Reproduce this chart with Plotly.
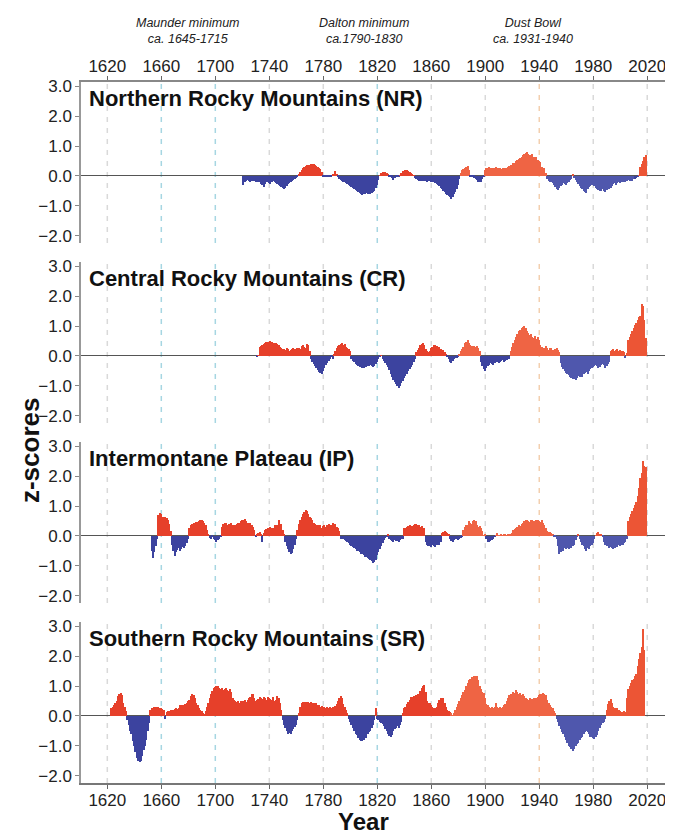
import plotly.graph_objects as go

# ---------------- data (z-scores by year) ----------------
NR_START = 1721
NR = [
    -0.30, -0.22, -0.18, -0.15, -0.17, -0.20, -0.16, -0.14, -0.18, -0.20,   # 1721
    -0.17, -0.19, -0.22, -0.26, -0.30, -0.36, -0.28, -0.22, -0.20, -0.24,   # 1731
    -0.27, -0.22, -0.18, -0.21, -0.25, -0.28, -0.30, -0.33, -0.38, -0.42,   # 1741
    -0.45, -0.40, -0.33, -0.28, -0.25, -0.22, -0.18, -0.15, -0.12, -0.08,   # 1751
    -0.04, 0.05, 0.12, 0.20, 0.26, 0.30, 0.33, 0.35, 0.37, 0.38,            # 1761
    0.40, 0.41, 0.40, 0.37, 0.33, 0.30, 0.27, 0.22, 0.12, -0.02,            # 1771
    -0.03, -0.04, -0.03, -0.02, -0.03, -0.02, 0.04, 0.06, 0.18, 0.08,       # 1781
    -0.05, -0.10, -0.15, -0.18, -0.20, -0.22, -0.25, -0.28, -0.30, -0.33,   # 1791
    -0.36, -0.40, -0.44, -0.48, -0.52, -0.55, -0.58, -0.60, -0.63, -0.62,   # 1801
    -0.60, -0.58, -0.60, -0.62, -0.60, -0.57, -0.55, -0.50, -0.42, -0.30,   # 1811
    -0.15, 0.02, 0.10, 0.12, 0.13, 0.12, 0.10, 0.05, -0.04, -0.05,          # 1821
    -0.06, -0.14, -0.08, -0.04, -0.03, -0.02, 0.02, 0.10, 0.15, 0.18,       # 1831
    0.20, 0.19, 0.17, 0.12, 0.10, 0.08, 0.03, -0.08, -0.12, -0.15,          # 1841
    -0.16, -0.18, -0.17, -0.15, -0.16, -0.18, -0.20, -0.18, -0.17, -0.19,   # 1851
    -0.20, -0.22, -0.24, -0.27, -0.30, -0.35, -0.40, -0.45, -0.50, -0.55,   # 1861
    -0.60, -0.64, -0.68, -0.72, -0.76, -0.70, -0.62, -0.55, -0.45, -0.30,   # 1871
    -0.12, 0.10, 0.20, 0.24, 0.28, 0.30, 0.34, 0.20, -0.03, -0.05,          # 1881
    -0.04, -0.06, -0.10, -0.15, -0.20, -0.22, -0.20, -0.12, -0.05, 0.20,    # 1891
    0.25, 0.28, 0.30, 0.26, 0.27, 0.25, 0.28, 0.30, 0.27, 0.25,             # 1901
    0.26, 0.24, 0.26, 0.27, 0.25, 0.28, 0.30, 0.32, 0.35, 0.38,             # 1911
    0.42, 0.45, 0.50, 0.55, 0.58, 0.60, 0.65, 0.70, 0.72, 0.76,             # 1921
    0.80, 0.74, 0.70, 0.68, 0.72, 0.65, 0.60, 0.62, 0.55, 0.50,             # 1931
    0.48, 0.30, 0.28, 0.25, 0.10, -0.12, -0.18, -0.20, -0.22, -0.25,        # 1941
    -0.30, -0.38, -0.45, -0.47, -0.40, -0.35, -0.30, -0.25, -0.28, -0.32,   # 1951
    -0.25, -0.20, -0.15, -0.10, 0.06, -0.08, -0.15, -0.22, -0.28, -0.35,    # 1961
    -0.40, -0.45, -0.50, -0.55, -0.58, -0.45, -0.38, -0.35, -0.30, -0.30,   # 1971
    -0.35, -0.40, -0.45, -0.48, -0.52, -0.50, -0.45, -0.50, -0.53, -0.48,   # 1981
    -0.42, -0.45, -0.40, -0.35, -0.28, -0.25, -0.30, -0.25, -0.22, -0.25,   # 1991
    -0.20, -0.22, -0.18, -0.20, -0.18, -0.15, -0.17, -0.14, -0.16, -0.12,   # 2001
    -0.10, -0.08, -0.05, 0.02, 0.30, 0.40, 0.50, 0.62, 0.70,                # 2011
]

CR_START = 1731
CR = [
    -0.03, 0.02, 0.30, 0.33, 0.38, 0.40, 0.43, 0.46, 0.48, 0.47,            # 1731
    0.49, 0.47, 0.44, 0.42, 0.43, 0.40, 0.36, 0.30, 0.26, 0.24,             # 1741
    0.22, 0.20, 0.25, 0.22, 0.18, 0.20, 0.24, 0.27, 0.22, 0.20,             # 1751
    0.25, 0.28, 0.22, 0.32, 0.38, 0.30, 0.26, 0.41, 0.35, 0.15,             # 1761
    -0.10, -0.20, -0.28, -0.35, -0.42, -0.48, -0.55, -0.58, -0.61, -0.52,   # 1771
    -0.42, -0.32, -0.25, -0.18, -0.10, -0.04, -0.10, 0.05, 0.15, 0.25,      # 1781
    0.32, 0.38, 0.40, 0.43, 0.38, 0.40, 0.30, 0.25, 0.22, 0.15,             # 1791
    -0.10, -0.18, -0.22, -0.28, -0.30, -0.34, -0.36, -0.38, -0.40, -0.42,   # 1801
    -0.38, -0.36, -0.33, -0.35, -0.32, -0.35, -0.38, -0.34, -0.28, -0.20,   # 1811
    -0.10, -0.02, 0.02, -0.12, -0.18, -0.25, -0.32, -0.38, -0.48, -0.60,    # 1821
    -0.70, -0.80, -0.88, -0.95, -1.02, -1.07, -1.00, -0.92, -0.85, -0.75,   # 1831
    -0.68, -0.60, -0.52, -0.45, -0.38, -0.30, -0.22, -0.10, 0.12, 0.20,     # 1841
    0.28, 0.35, 0.40, 0.43, 0.35, 0.22, 0.15, 0.12, 0.18, 0.25,             # 1851
    0.30, 0.35, 0.38, 0.32, 0.25, 0.30, 0.22, 0.15, 0.20, 0.12,             # 1861
    0.08, -0.05, -0.12, -0.20, -0.25, -0.18, -0.12, -0.08, -0.06, -0.03,    # 1871
    0.08, 0.15, 0.22, 0.30, 0.42, 0.48, 0.52, 0.45, 0.35, 0.32,             # 1881
    0.30, 0.33, 0.30, 0.32, 0.28, 0.15, -0.20, -0.35, -0.45, -0.50,         # 1891
    -0.42, -0.35, -0.30, -0.25, -0.28, -0.32, -0.25, -0.22, -0.20, -0.25,   # 1901
    -0.22, -0.18, -0.15, -0.20, -0.17, -0.15, -0.12, -0.10, 0.15, 0.30,     # 1911
    0.45, 0.55, 0.65, 0.75, 0.82, 0.88, 0.95, 0.98, 1.00, 0.92,             # 1921
    0.85, 0.78, 0.70, 0.72, 0.65, 0.60, 0.68, 0.58, 0.62, 0.55,             # 1931
    0.35, 0.30, 0.22, 0.28, 0.32, 0.25, 0.20, 0.28, 0.25, 0.20,             # 1941
    0.18, 0.22, 0.28, 0.20, 0.12, -0.25, -0.38, -0.45, -0.50, -0.58,        # 1951
    -0.62, -0.65, -0.70, -0.74, -0.76, -0.78, -0.82, -0.75, -0.68, -0.72,   # 1961
    -0.65, -0.70, -0.62, -0.58, -0.55, -0.60, -0.52, -0.45, -0.40, -0.38,   # 1971
    -0.35, -0.30, -0.35, -0.42, -0.38, -0.30, -0.26, -0.32, -0.40, -0.35,   # 1981
    -0.28, -0.22, 0.15, 0.20, 0.22, 0.18, 0.20, 0.22, 0.18, 0.20,           # 1991
    0.16, 0.15, 0.12, -0.07, 0.10, 0.55, 0.65, 0.75, 0.85, 0.95,            # 2001
    1.05, 1.10, 1.20, 1.30, 1.35, 1.74, 1.68, 1.20, 0.60,                   # 2011
]

IP_START = 1653
IP = [
    -0.50, -0.73, -0.55, -0.35, -0.10, 0.70, 0.78, 0.72, 0.65, 0.62,        # 1653
    0.64, 0.60, 0.55, 0.40, 0.15, -0.30, -0.50, -0.67, -0.55, -0.48,        # 1663
    -0.42, -0.50, -0.45, -0.38, -0.42, -0.35, -0.25, -0.10, 0.25, 0.35,     # 1673
    0.40, 0.42, 0.45, 0.48, 0.46, 0.50, 0.52, 0.55, 0.50, 0.45,             # 1683
    0.35, 0.20, 0.05, -0.08, -0.10, -0.05, -0.12, -0.15, -0.19, -0.15,      # 1693
    -0.10, -0.05, 0.30, 0.40, 0.45, 0.42, 0.38, 0.40, 0.35, 0.45,           # 1703
    0.38, 0.30, 0.35, 0.40, 0.42, 0.45, 0.50, 0.52, 0.55, 0.58,             # 1713
    0.50, 0.45, 0.40, 0.42, 0.35, 0.30, 0.20, -0.05, 0.05, 0.10,            # 1723
    0.12, 0.08, -0.22, 0.10, 0.20, 0.22, 0.25, 0.20, 0.30, 0.25,            # 1733
    0.28, 0.38, 0.30, 0.35, 0.55, 0.30, 0.40, 0.20, 0.05, -0.20,            # 1743
    -0.35, -0.45, -0.55, -0.61, -0.58, -0.45, -0.30, -0.10, 0.20, 0.40,     # 1753
    0.55, 0.65, 0.72, 0.80, 0.86, 0.82, 0.75, 0.64, 0.60, 0.55,             # 1763
    0.45, 0.40, 0.35, 0.38, 0.30, 0.35, 0.28, 0.32, 0.38, 0.30,             # 1773
    0.35, 0.40, 0.33, 0.38, 0.42, 0.35, 0.40, 0.30, 0.25, 0.15,             # 1783
    -0.10, -0.12, -0.10, -0.15, -0.18, -0.20, -0.25, -0.30, -0.33, -0.38,   # 1793
    -0.42, -0.45, -0.50, -0.52, -0.55, -0.60, -0.62, -0.65, -0.70, -0.72,   # 1803
    -0.75, -0.78, -0.80, -0.85, -0.90, -0.88, -0.80, -0.65, -0.55, -0.45,   # 1813
    -0.35, -0.25, -0.15, -0.08, -0.03, 0.05, -0.12, -0.15, -0.18, -0.20,    # 1823
    -0.15, -0.18, -0.16, -0.20, -0.15, -0.12, -0.10, 0.25, 0.28, 0.30,      # 1833
    0.32, 0.35, 0.30, 0.33, 0.38, 0.40, 0.41, 0.38, 0.35, 0.30,             # 1843
    0.32, 0.28, 0.25, -0.20, -0.30, -0.33, -0.35, -0.38, -0.30, -0.35,      # 1853
    -0.38, -0.30, -0.25, -0.30, -0.20, 0.10, 0.13, 0.15, 0.12, 0.10,        # 1863
    0.08, -0.10, -0.16, -0.20, -0.15, -0.12, -0.10, -0.15, -0.12, -0.08,    # 1873
    -0.05, 0.20, 0.30, 0.35, 0.38, 0.50, 0.45, 0.40, 0.50, 0.55,            # 1883
    0.50, 0.35, 0.30, 0.32, 0.25, 0.15, 0.02, 0.04, -0.12, -0.20,           # 1893
    -0.22, -0.18, -0.15, -0.10, -0.05, 0.02, 0.10, 0.03, 0.02, 0.05,        # 1903
    0.03, 0.04, 0.05, 0.03, 0.06, 0.05, 0.04, 0.10, 0.20, 0.22,             # 1913
    0.25, 0.30, 0.35, 0.33, 0.40, 0.45, 0.50, 0.52, 0.55, 0.50,             # 1923
    0.48, 0.52, 0.55, 0.50, 0.45, 0.52, 0.55, 0.50, 0.48, 0.52,             # 1933
    0.45, 0.35, 0.25, 0.15, 0.13, 0.12, 0.10, 0.05, -0.02, -0.05,           # 1943
    -0.10, -0.35, -0.60, -0.55, -0.45, -0.50, -0.42, -0.45, -0.40, -0.45,   # 1953
    -0.38, -0.40, -0.35, -0.30, -0.15, -0.05, 0.06, -0.10, -0.20, -0.30,    # 1963
    -0.35, -0.45, -0.50, -0.40, -0.45, -0.35, -0.30, -0.25, -0.10, 0.02,    # 1973
    0.10, 0.12, 0.08, 0.05, -0.02, -0.20, -0.30, -0.35, -0.30, -0.40,       # 1983
    -0.38, -0.42, -0.45, -0.40, -0.35, -0.38, -0.30, -0.35, -0.30, -0.32,   # 1993
    -0.25, -0.20, -0.10, 0.50, 0.62, 0.75, 0.85, 0.95, 1.05, 1.15,          # 2003
    1.35, 1.60, 1.95, 2.10, 2.51, 2.35, 2.30,                               # 2013
]

SR_START = 1623
SR = [
    0.25, 0.30, 0.35, 0.42, 0.50, 0.67, 0.72, 0.76, 0.70, 0.45,             # 1623
    0.30, 0.15, -0.15, -0.30, -0.50, -0.60, -0.85, -1.00, -1.20, -1.40,     # 1633
    -1.50, -1.54, -1.52, -1.35, -1.15, -1.00, -0.80, -0.50, -0.25, 0.20,    # 1643
    0.25, 0.28, 0.31, 0.30, 0.28, 0.30, 0.25, 0.28, 0.22, 0.20,             # 1653
    -0.10, 0.12, 0.15, 0.18, 0.20, 0.18, 0.20, 0.22, 0.25, 0.22,            # 1663
    0.28, 0.35, 0.36, 0.38, 0.35, 0.40, 0.45, 0.50, 0.55, 0.68,             # 1673
    0.74, 0.70, 0.60, 0.45, 0.35, 0.25, 0.20, 0.15, 0.10, 0.08,             # 1683
    0.15, 0.30, 0.45, 0.60, 0.75, 0.85, 0.95, 0.98, 1.00, 1.01,             # 1693
    0.95, 0.90, 0.92, 0.88, 0.90, 0.93, 0.88, 0.85, 0.90, 0.80,             # 1703
    0.60, 0.55, 0.50, 0.48, 0.50, 0.45, 0.50, 0.48, 0.50, 0.52,             # 1713
    0.48, 0.55, 0.60, 0.65, 0.72, 0.74, 0.60, 0.50, 0.55, 0.58,             # 1723
    0.62, 0.60, 0.58, 0.65, 0.60, 0.55, 0.62, 0.60, 0.58, 0.55,             # 1733
    0.62, 0.50, 0.55, 0.68, 0.60, 0.45, 0.20, -0.15, -0.30, -0.42,          # 1743
    -0.50, -0.60, -0.58, -0.60, -0.50, -0.45, -0.38, -0.30, -0.15, 0.10,    # 1753
    0.30, 0.42, 0.48, 0.46, 0.48, 0.45, 0.47, 0.44, 0.48, 0.45,             # 1763
    0.42, 0.40, 0.44, 0.38, 0.35, 0.30, 0.32, 0.28, 0.30, 0.26,             # 1773
    0.30, 0.28, 0.30, 0.25, 0.30, 0.28, 0.32, 0.40, 0.50, 0.60,             # 1783
    0.67, 0.60, 0.40, 0.30, 0.20, 0.10, -0.10, -0.20, -0.30, -0.40,         # 1793
    -0.50, -0.60, -0.65, -0.75, -0.80, -0.83, -0.85, -0.80, -0.70, -0.75,   # 1803
    -0.60, -0.55, -0.50, -0.40, -0.30, -0.15, 0.25, -0.10, -0.15, -0.20,    # 1813
    -0.25, -0.26, -0.35, -0.45, -0.50, -0.60, -0.68, -0.72, -0.65, -0.50,   # 1823
    -0.45, -0.40, -0.35, -0.40, -0.30, -0.20, 0.10, 0.25, 0.30, 0.40,       # 1833
    0.48, 0.55, 0.62, 0.65, 0.66, 0.68, 0.70, 0.72, 0.75, 0.85,             # 1843
    0.93, 1.00, 1.05, 0.80, 0.50, 0.42, 0.45, 0.35, 0.30, 0.28,             # 1853
    0.25, 0.30, 0.45, 0.55, 0.60, 0.58, 0.60, 0.45, 0.30, 0.20,             # 1863
    0.15, 0.12, 0.10, 0.02, 0.10, 0.20, 0.30, 0.40, 0.50, 0.60,             # 1873
    0.70, 0.80, 0.88, 1.00, 1.10, 1.20, 1.25, 1.30, 1.32, 1.35,             # 1883
    1.33, 1.35, 1.20, 1.00, 0.90, 0.80, 0.76, 0.60, 0.40, 0.35,             # 1893
    0.30, 0.25, 0.30, 0.28, 0.30, 0.44, 0.30, 0.28, 0.30, 0.25,             # 1903
    0.30, 0.35, 0.40, 0.50, 0.60, 0.70, 0.72, 0.75, 0.80, 0.78,             # 1913
    0.87, 0.80, 0.75, 0.78, 0.70, 0.72, 0.68, 0.60, 0.58, 0.55,             # 1923
    0.60, 0.55, 0.58, 0.60, 0.55, 0.60, 0.65, 0.70, 0.72, 0.75,             # 1933
    0.76, 0.74, 0.70, 0.55, 0.42, 0.35, 0.30, 0.25, 0.18, 0.10,             # 1943
    -0.10, -0.20, -0.35, -0.45, -0.55, -0.60, -0.70, -0.80, -0.90, -1.00,   # 1953
    -1.05, -1.12, -1.19, -1.10, -1.00, -0.95, -0.90, -0.80, -0.75, -0.72,   # 1963
    -0.60, -0.55, -0.50, -0.55, -0.60, -0.70, -0.72, -0.75, -0.77, -0.70,   # 1973
    -0.65, -0.50, -0.40, -0.30, -0.25, -0.20, -0.10, 0.20, 0.40, 0.50,      # 1983
    0.56, 0.45, 0.30, 0.25, 0.22, 0.28, 0.20, 0.15, 0.14, 0.12,             # 1993
    0.15, 0.14, 0.60, 0.90, 1.00, 1.10, 1.20, 1.25, 1.33, 1.40,             # 2003
    1.67, 1.90, 2.10, 2.30, 2.92, 2.20,                                     # 2013
]

PANEL_NAMES = [
    "Northern Rocky Mountains (NR)",
    "Central Rocky Mountains (CR)",
    "Intermontane Plateau (IP)",
    "Southern Rocky Mountains (SR)",
]
TICK_YEARS = [1620, 1660, 1700, 1740, 1780, 1820, 1860, 1900, 1940, 1980, 2020]
Y_TICKS = [-2.0, -1.0, 0.0, 1.0, 2.0, 3.0]
PERIOD_LABELS = ["Maunder minimum<br>ca. 1645-1715",
                 "Dalton minimum<br>ca.1790-1830",
                 "Dust Bowl<br>ca. 1931-1940"]
PERIOD_START = [1645, 1790, 1931]
PERIOD_END = [1715, 1830, 1940]

# ---------------- styling ----------------
# the page body adds an 8px offset, so the figure itself is 8px smaller
FIG_W, FIG_H = 665, 829
FONT = "Liberation Sans, Arial, Helvetica, sans-serif"
X_RANGE = [1600.5, 2037.6]
Y_RANGE = [-2.25, 3.15]
PANEL_H = 0.22967
GAP = (1 - 4 * PANEL_H) / 3

GRID_COLOR = {1660: "#a6d6e2", 1700: "#a6d6e2", 1820: "#a6d6e2", 1940: "#f3cfae"}
GRID_DEFAULT = "#d9d9d9"


def bar_color(year, v):
    if v >= 0:
        if 1875 <= year <= 1960:
            return "#ef6444"
        if year > 1960:
            return "#ec5535"
        return "#e6402a"
    if 1945 <= year <= 2010:
        return "#4f57ad"
    return "#3c439f"


series = [(NR_START, NR), (CR_START, CR), (IP_START, IP), (SR_START, SR)]

fig = go.Figure()
layout = dict(
    width=FIG_W, height=FIG_H,
    margin=dict(l=73, r=2, t=74, b=54),
    paper_bgcolor="white", plot_bgcolor="white",
    showlegend=False, bargap=0,
    font=dict(family=FONT, color="#222222"),
)

shapes = []
annotations = []
for k, (start, vals) in enumerate(series):
    idx = k + 1
    yname = "y" if idx == 1 else f"y{idx}"
    ykey = "yaxis" if idx == 1 else f"yaxis{idx}"
    years = list(range(start, start + len(vals)))
    fig.add_trace(go.Bar(
        x=years, y=vals, xaxis="x", yaxis=yname, width=1.0,
        marker=dict(color=[bar_color(yr, v) for yr, v in zip(years, vals)],
                    line=dict(width=0)),
        hoverinfo="x+y",
    ))
    top = 1 - k * (PANEL_H + GAP)
    bot = top - PANEL_H
    if k == 3:
        bot, top = 0.0, PANEL_H
    layout[ykey] = dict(
        domain=[round(max(bot, 0.0), 5), round(min(top, 1.0), 5)], anchor="x",
        range=Y_RANGE, automargin=False,
        tickvals=Y_TICKS, tickformat=".1f", ticks="outside", ticklen=4,
        tickcolor="#888888", showline=True, linecolor="#999999", linewidth=1.5,
        zeroline=True, zerolinecolor="#555555", zerolinewidth=1.3,
        showgrid=False, tickfont=dict(size=17, family=FONT, color="#222222"),
    )
    dref = f"{yname} domain"
    for ty in TICK_YEARS:
        shapes.append(dict(
            type="line", xref="x", yref=dref, x0=ty, x1=ty, y0=0, y1=1,
            line=dict(color=GRID_COLOR.get(ty, GRID_DEFAULT), width=1.5, dash="5px,6px"),
            layer="below",
        ))
    annotations.append(dict(
        text=f"<b>{PANEL_NAMES[k]}</b>", xref="paper", yref=dref,
        x=0.011, y=0.99, xanchor="left", yanchor="top", showarrow=False,
        font=dict(size=22, family=FONT, color="#111111"),
    ))

# bottom x axis
layout["xaxis"] = dict(
    domain=[0, 1], anchor="y4", range=X_RANGE, tickvals=TICK_YEARS, automargin=False,
    ticks="outside", ticklen=4, tickcolor="#666666", showline=True,
    linecolor="#777777", linewidth=1.5, showgrid=False, zeroline=False,
    ticklabelstandoff=-3,
    tickfont=dict(size=17, family=FONT, color="#222222"),
)
# top x axis
layout["xaxis2"] = dict(
    overlaying="x", side="top", anchor="y", range=X_RANGE, tickvals=TICK_YEARS,
    automargin=False, ticks="outside", ticklen=4, tickcolor="#666666", showline=True,
    linecolor="#888888", linewidth=1.5, showgrid=False, zeroline=False,
    ticklabelstandoff=-3,
    tickfont=dict(size=17, family=FONT, color="#222222"),
)
fig.add_trace(go.Scatter(x=[X_RANGE[0]], y=[None], xaxis="x2", yaxis="y",
                         mode="markers", showlegend=False, hoverinfo="skip"))

for lab, s, e in zip(PERIOD_LABELS, PERIOD_START, PERIOD_END):
    annotations.append(dict(
        text=f"<i>{lab}</i>", xref="x", yref="paper", x=(s + e) / 2, y=1.0727,
        xanchor="center", yanchor="middle", showarrow=False,
        font=dict(size=12.5, family=FONT, color="#222222"),
    ))

annotations.append(dict(
    text="<b>z-scores</b>", xref="paper", yref="paper", x=-0.0864, y=0.475,
    xanchor="center", yanchor="middle", textangle=-90, showarrow=False,
    font=dict(size=26, family=FONT, color="#111111"),
))
annotations.append(dict(
    text="<b>Year</b>", xref="paper", yref="paper", x=0.478, y=-0.0545,
    xanchor="center", yanchor="middle", showarrow=False,
    font=dict(size=24, family=FONT, color="#111111"),
))

layout["shapes"] = shapes
layout["annotations"] = annotations
fig.update_layout(**layout)
fig.write_html("out.html")
